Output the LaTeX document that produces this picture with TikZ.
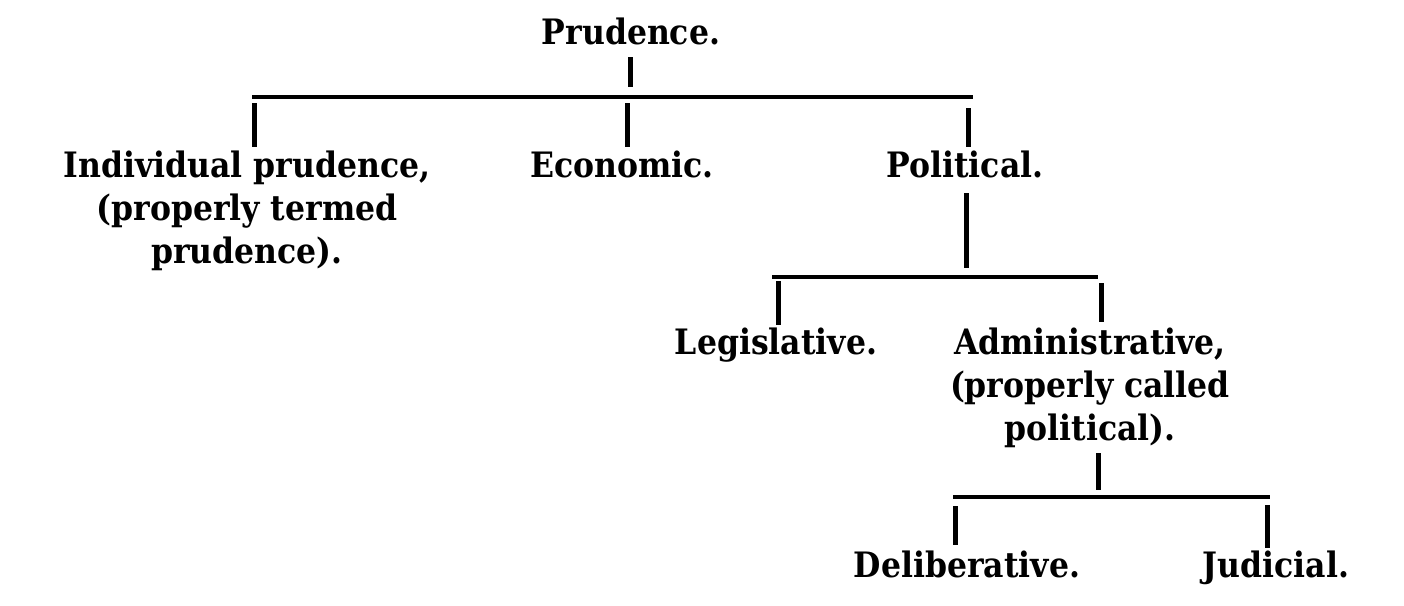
\documentclass[tikz,border=0pt]{standalone}
\usepackage{fontspec}
\setmainfont{DejaVu Serif Condensed}
\begin{document}
\begin{tikzpicture}[x=1pt,y=-1pt,
  lbl/.style={anchor=north,inner sep=0pt,align=center,
    font=\rmfamily\bfseries\fontsize{35}{43}\selectfont},
  twig/.style={line width=5pt},
  barline/.style={line width=4.5pt}]
\fill[white] (0,0) rectangle (1404,605);
\useasboundingbox (0,0) rectangle (1404,605);
% nodes
\node[lbl] (prud) at (631,18) {Prudence.};
\node[lbl] (indiv) at (247,151) {Individual prudence,\\(properly termed\\prudence).};
\node[lbl] (econ) at (622,151) {Economic.};
\node[lbl] (polit) at (965,151) {Political.};
\node[lbl] (legis) at (776,328) {Legislative.};
\node[lbl] (admin) at (1090,328) {Administrative,\\(properly called\\political).};
\node[lbl] (delib) at (967,551) {Deliberative.};
\node[lbl] (judic) at (1276,551) {Judicial.};
% coordinates
\coordinate (s0t) at (630,57);  \coordinate (s0b) at (630,87);
\coordinate (b1L) at (252,97);  \coordinate (b1R) at (973,97);
\coordinate (d1a) at (254,103); \coordinate (d1ab) at (254,147);
\coordinate (d1b) at (627,103); \coordinate (d1bb) at (627,147);
\coordinate (d1c) at (968,108); \coordinate (d1cb) at (968,147);
\coordinate (s1t) at (966,193); \coordinate (s1b) at (966,268);
\coordinate (b2L) at (772,277); \coordinate (b2R) at (1098,277);
\coordinate (d2a) at (778,281); \coordinate (d2ab) at (778,325);
\coordinate (d2b) at (1101,283); \coordinate (d2bb) at (1101,322);
\coordinate (s2t) at (1098,453); \coordinate (s2b) at (1098,490);
\coordinate (b3L) at (953,497); \coordinate (b3R) at (1270,497);
\coordinate (d3a) at (955,506); \coordinate (d3ab) at (955,545);
\coordinate (d3b) at (1267,505); \coordinate (d3bb) at (1267,548);
% connectors
\draw[twig] (s0t) -- (s0b);
\draw[barline] (b1L) -- (b1R);
\draw[twig] (d1a) -- (d1ab);
\draw[twig] (d1b) -- (d1bb);
\draw[twig] (d1c) -- (d1cb);
\draw[twig] (s1t) -- (s1b);
\draw[barline] (b2L) -- (b2R);
\draw[twig] (d2a) -- (d2ab);
\draw[twig] (d2b) -- (d2bb);
\draw[twig] (s2t) -- (s2b);
\draw[barline] (b3L) -- (b3R);
\draw[twig] (d3a) -- (d3ab);
\draw[twig] (d3b) -- (d3bb);
\end{tikzpicture}
\end{document}
